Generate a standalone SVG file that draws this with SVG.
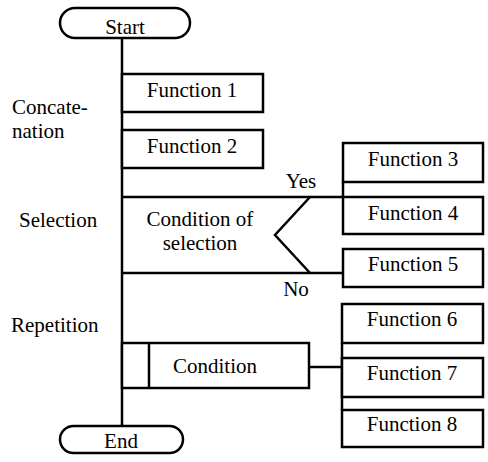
<svg xmlns="http://www.w3.org/2000/svg" width="488" height="462" viewBox="0 0 488 462">
<style>
.box{fill:#fff;stroke:#000;stroke-width:2.5}
.ln{fill:none;stroke:#000;stroke-width:2.5}
.c{text-anchor:middle}
</style>
<rect width="488" height="462" fill="#fff"/>
<g id="connectors">
<line class="ln" x1="122" y1="38" x2="122" y2="426"/>
<line class="ln" x1="122" y1="197" x2="343" y2="197"/>
<line class="ln" x1="343" y1="182" x2="343" y2="197"/>
<line class="ln" x1="122" y1="273" x2="343" y2="273"/>
<polyline class="ln" points="310,197 275,235 310,273"/>
<line class="ln" x1="309" y1="367" x2="342" y2="367"/>
<line class="ln" x1="342" y1="343" x2="342" y2="410"/>
</g>
<g font-family="'Liberation Serif', 'DejaVu Serif', serif" font-size="21" fill="#000">
<g id="start"><rect class="box" x="60" y="8" width="130" height="30" rx="15"/><text class="c" x="125" y="34">Start</text></g>
<g id="label-concat"><text x="12" y="114">Concate-</text><text x="12" y="138">nation</text></g>
<g id="label-selection"><text x="19" y="227">Selection</text></g>
<g id="label-repetition"><text x="11" y="332">Repetition</text></g>
<g id="f1"><rect class="box" x="122" y="74" width="141" height="38"/><text class="c" x="192" y="97">Function 1</text></g>
<g id="f2"><rect class="box" x="122" y="130" width="141" height="38"/><text class="c" x="192" y="153">Function 2</text></g>
<g id="f3"><rect class="box" x="343" y="143" width="140" height="39"/><text class="c" x="413" y="166">Function 3</text></g>
<g id="f4"><rect class="box" x="343" y="197" width="140" height="37"/><text class="c" x="413" y="220">Function 4</text></g>
<g id="f5"><rect class="box" x="343" y="249" width="140" height="38"/><text class="c" x="413" y="271">Function 5</text></g>
<g id="selection"><text class="c" x="200" y="226">Condition of</text><text class="c" x="200" y="250">selection</text></g>
<g id="yes"><text class="c" x="301" y="188">Yes</text></g>
<g id="no"><text class="c" x="296" y="296">No</text></g>
<g id="repetition"><rect class="box" x="122" y="343" width="187" height="45"/><line class="ln" x1="149" y1="343" x2="149" y2="388"/><text class="c" x="215" y="373">Condition</text></g>
<g id="f6"><rect class="box" x="342" y="304" width="141" height="39"/><text class="c" x="412" y="326">Function 6</text></g>
<g id="f7"><rect class="box" x="342" y="358" width="141" height="39"/><text class="c" x="412" y="380">Function 7</text></g>
<g id="f8"><rect class="box" x="342" y="410" width="141" height="37"/><text class="c" x="412" y="431">Function 8</text></g>
<g id="end"><rect class="box" x="60" y="426" width="123" height="27" rx="13.5"/><text class="c" x="121" y="448">End</text></g>
</g>
</svg>
